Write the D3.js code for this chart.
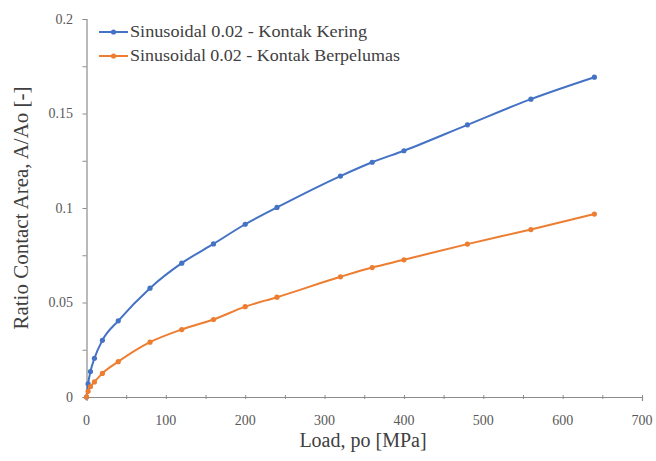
<!DOCTYPE html>
<html><head><meta charset="utf-8">
<script src="https://cdn.jsdelivr.net/npm/d3@7"></script>
<style>html,body{margin:0;padding:0;background:#fff;}svg{display:block;}
svg text{font-family:"Liberation Serif","Times New Roman",serif;}</style>
</head><body>
<svg id="chart" width="656" height="461"></svg>
<script>
const loads = [0, 2, 5, 10, 20, 40, 80, 120, 160, 200, 240, 320, 360, 400, 480, 560, 640];
const kering = [0, 0.007, 0.0135, 0.0205, 0.030, 0.0403, 0.0576, 0.0708, 0.081, 0.0914, 0.1003, 0.1169, 0.1242, 0.1303, 0.1440, 0.1576, 0.1692];
const berpelumas = [0, 0.003, 0.0055, 0.008, 0.0125, 0.0187, 0.0290, 0.0357, 0.0410, 0.0478, 0.0528, 0.0636, 0.0685, 0.0726, 0.0809, 0.0886, 0.0968];
const seriesNames = ["Sinusoidal 0.02 - Kontak Kering", "Sinusoidal 0.02 - Kontak Berpelumas"];
const seriesColors = ["#4472C4", "#ED7D31"];
const xTicks = [0, 100, 200, 300, 400, 500, 600, 700];
const yTicks = [0, 0.05, 0.1, 0.15, 0.2];
const xTitle = "Load, po [MPa]";
const yTitle = "Ratio Contact Area, A/Ao [-]";

const svg = d3.select("#chart");
const x = d3.scaleLinear().domain([0, 700]).range([86.5, 642]);
const y = d3.scaleLinear().domain([0, 0.2]).range([397, 19]);
const axisColor = "#8c8c8c";

// X axis
const gx = svg.append("g").attr("transform", `translate(0,${y(0)})`)
  .call(d3.axisBottom(x).tickValues(d3.range(0, 701, 50)).tickSize(4).tickFormat(""));
gx.select(".domain").attr("stroke", axisColor).attr("stroke-width", 1.2);
gx.selectAll(".tick line").attr("stroke", axisColor).attr("y1", -2).attr("y2", 2);
svg.append("g").selectAll("text").data(xTicks).join("text")
  .attr("x", d => x(d)).attr("y", 425).attr("text-anchor", "middle")
  .attr("font-size", 14).attr("fill", "#595959")
  .text(d => d);

// Y axis
const gy = svg.append("g").attr("transform", `translate(${x(0)},0)`)
  .call(d3.axisLeft(y).tickValues(d3.range(0, 0.2001, 0.025)).tickSize(4).tickFormat(""));
gy.select(".domain").attr("stroke", axisColor).attr("stroke-width", 1.2);
gy.selectAll(".tick line").attr("stroke", axisColor);
svg.append("g").selectAll("text").data(yTicks).join("text")
  .attr("x", 73).attr("y", d => y(d) + 4.5).attr("text-anchor", "end")
  .attr("font-size", 14).attr("fill", "#595959")
  .text(d => d);

// Axis titles
svg.append("text").attr("x", 363).attr("y", 447).attr("text-anchor", "middle")
  .attr("font-size", 20).attr("fill", "#404040").text(xTitle);
svg.append("text").attr("transform", "translate(28,208) rotate(-90)").attr("text-anchor", "middle")
  .attr("font-size", 21).attr("fill", "#404040").text(yTitle);

// Series
const data = [kering, berpelumas];
const line = d3.line().x((d, i) => x(loads[i])).y(d => y(d)).curve(d3.curveMonotoneX);
data.forEach((vals, s) => {
  svg.append("path").datum(vals).attr("d", line)
    .attr("fill", "none").attr("stroke", seriesColors[s]).attr("stroke-width", 2);
  svg.append("g").selectAll("circle").data(vals).join("circle")
    .attr("cx", (d, i) => x(loads[i])).attr("cy", d => y(d)).attr("r", 2.6)
    .attr("fill", seriesColors[s]);
});

// Legend
const legendWidths = [237, 270];
const leg = svg.append("g");
seriesNames.forEach((name, s) => {
  const ly = 32 + s * 24;
  leg.append("line").attr("x1", 99).attr("x2", 128).attr("y1", ly).attr("y2", ly)
    .attr("stroke", seriesColors[s]).attr("stroke-width", 2);
  leg.append("circle").attr("cx", 113.5).attr("cy", ly).attr("r", 2.6).attr("fill", seriesColors[s]);
  leg.append("text").attr("x", 130).attr("y", ly + 5)
    .attr("font-size", 16).attr("fill", "#404040")
    .attr("textLength", legendWidths[s]).attr("lengthAdjust", "spacingAndGlyphs").text(name);
});
</script>
</body></html>
